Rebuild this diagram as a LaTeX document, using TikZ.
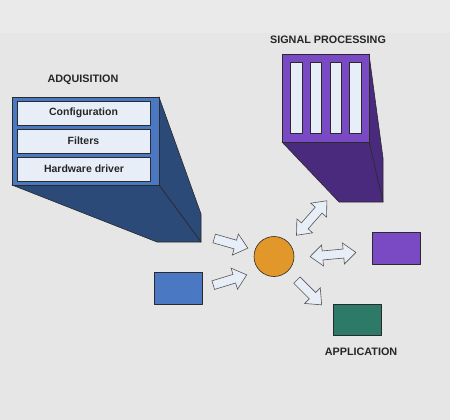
\documentclass[tikz,border=0pt]{standalone}
\usepackage{fontspec}
\setmainfont{Liberation Sans}
\definecolor{bg}{HTML}{E6E6E6}
\definecolor{bgtop}{HTML}{EAEAEA}
\definecolor{blueF}{HTML}{4A78C2}
\definecolor{blueD}{HTML}{2B4A78}
\definecolor{purpF}{HTML}{7A4AC4}
\definecolor{purpD}{HTML}{4A2A7C}
\definecolor{lightF}{HTML}{E8EEF8}
\definecolor{orangeF}{HTML}{E2972A}
\definecolor{greenF}{HTML}{2E7A68}
\definecolor{edge}{HTML}{2A2A2A}
\begin{document}
\begin{tikzpicture}[x=1pt,y=-1pt,
  outline/.style={draw=edge, line width=0.6pt, line join=round},
  label/.style={font=\fontsize{10.8}{12}\selectfont\bfseries, text=black!85, inner sep=0pt},
  layer/.style={outline, fill=lightF, minimum width=133pt, minimum height=24pt, inner sep=0pt,
     font=\fontsize{10.5}{12}\selectfont\bfseries, text=black!85},
  bar/.style={outline, fill=lightF, minimum width=11.7pt, minimum height=71pt, inner sep=0pt},
  blockarrow/.style={draw=edge!80, line width=0.6pt, fill=lightF, line join=miter},
  single block/.pic={\draw[blockarrow] (-17.5,-4.5) -- (4.5,-4.5) -- (4.5,-11) -- (17.5,0) -- (4.5,11) -- (4.5,4.5) -- (-17.5,4.5) -- cycle;},
  double block/.pic={\draw[blockarrow] (-23,0) -- (-10.5,-10.5) -- (-10.5,-4.5) -- (10.5,-4.5) -- (10.5,-10.5) -- (23,0) -- (10.5,10.5) -- (10.5,4.5) -- (-10.5,4.5) -- (-10.5,10.5) -- cycle;},
  rectbox/.style={outline, minimum width=48pt, minimum height=31.7pt, inner sep=0pt}
]
\fill[bg] (0,0) rectangle (450,420);
\fill[bgtop] (0,0) rectangle (450,33);
\useasboundingbox (0,0) rectangle (450,420);

% ---------- ADQUISITION block ----------
\filldraw[outline, fill=blueD] (159,97) -- (201,214) -- (201,242) -- (159,185) -- cycle;
\filldraw[outline, fill=blueD] (12,185) -- (159,185) -- (201,242) -- (157,242) -- cycle;
\node[outline, fill=blueF, minimum width=147pt, minimum height=88pt, inner sep=0pt, anchor=north west] (acq) at (12,97) {};
\node[layer] (conf) at (83.5,113.3) {Configuration};
\node[layer] (filt) at (83.5,141.2) {Filters};
\node[layer] (hw) at (84,169) {Hardware driver};
\node[label] (acqlabel) at (83,80) {ADQUISITION};

% ---------- SIGNAL PROCESSING block ----------
\filldraw[outline, fill=purpD] (369,54) -- (383,158) -- (383,202) -- (369,142) -- cycle;
\filldraw[outline, fill=purpD] (282,142) -- (369,142) -- (383,202) -- (339,202) -- cycle;
\node[outline, fill=purpF, minimum width=87pt, minimum height=87.5pt, inner sep=0pt, anchor=north west] (sp) at (282,54.3) {};
\node[bar] (b1) at (296,97.8) {};
\node[bar] (b2) at (315.8,97.8) {};
\node[bar] (b3) at (335.8,97.8) {};
\node[bar] (b4) at (355.2,97.8) {};
\node[label] (splabel) at (328,40) {SIGNAL PROCESSING};

% ---------- centre and boxes ----------
\node[outline, circle, fill=orangeF, minimum size=40pt, inner sep=0pt] (hub) at (274,256.5) {};
\node[rectbox, fill=blueF] (src) at (178.7,288.2) {};
\node[rectbox, fill=purpF] (out) at (396.7,248.5) {};
\node[rectbox, fill=greenF] (app) at (357,319.8) {};
\node[label] (applabel) at (361,352) {APPLICATION};

% ---------- block arrows ----------
\pic (a1) [shift={(231,243.3)}, rotate=-16] {single block};
\pic (a2) [shift={(230,280)}, rotate=17] {single block};
\pic (a5) [shift={(309.3,292.5)}, rotate=-45] {single block};
\pic (a3) [shift={(311.7,218)}, rotate=48.6] {double block};
\pic (a4) [shift={(333,254.5)}, rotate=5.2] {double block};
\end{tikzpicture}
\end{document}
